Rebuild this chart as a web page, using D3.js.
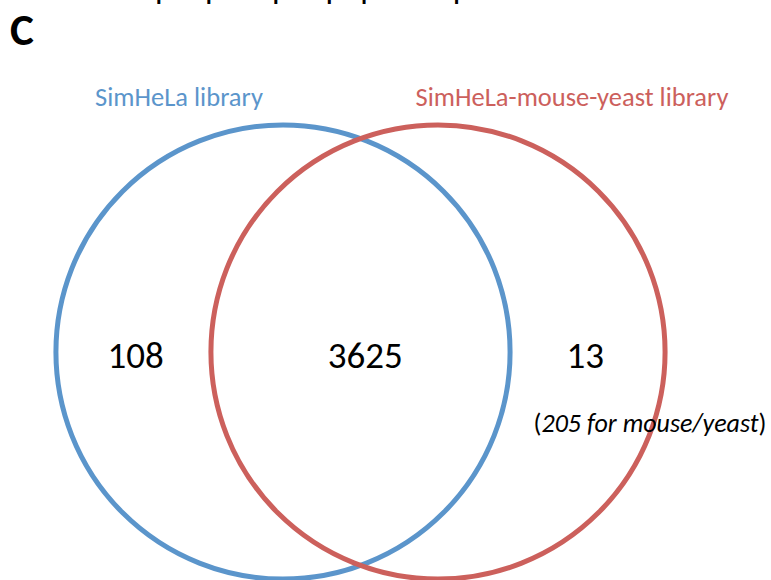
<!DOCTYPE html>
<html>
<head>
<meta charset="utf-8">
<script src="https://cdn.jsdelivr.net/npm/d3@7/dist/d3.min.js"></script>
<style>
  html, body { margin: 0; padding: 0; background: #fff; }
  svg { display: block; }
  text { font-family: Carlito, Calibri, Lato, "Open Sans", sans-serif; }
</style>
</head>
<body>
<svg id="chart" width="771" height="580"></svg>
<script>
// Library names, colours and the overlap counts
const setNames = ["SimHeLa library", "SimHeLa-mouse-yeast library"];
const setColors = ["#5b95cb", "#cc605c"];
const regionLabels = ["SimHeLa only", "Both", "SimHeLa-mouse-yeast only"];
const regionCounts = [108, 3625, 13];
const extraNote = ["205", " for mouse/yeast"];
const panelLetter = "C";
const titleText = "Unique phosphopeptide spectral matches";

const svg = d3.select("#chart");

// Horizontal layout in diagram units: circles centred at 0 and 1, radius 1.465
const x = d3.scaleLinear().domain([0, 1]).range([283, 438]);
const r = 1.465;
const rPx = x(r) - x(0);
const cy = 352;

// Title (runs off the top edge)
svg.append("text")
  .attr("x", 385).attr("y", -2)
  .attr("text-anchor", "middle")
  .attr("font-size", 34)
  .attr("fill", "#000")
  .text(titleText);

svg.append("text")
  .attr("x", 10).attr("y", 45)
  .attr("font-size", 45)
  .attr("font-weight", "bold")
  .attr("fill", "#000")
  .text(panelLetter);

// Circles: blue first, red drawn on top
svg.selectAll("circle.set")
  .data(setNames)
  .join("circle")
  .attr("class", "set")
  .attr("cx", (d, i) => x(i))
  .attr("cy", cy)
  .attr("r", rPx)
  .attr("fill", "none")
  .attr("stroke", (d, i) => setColors[i])
  .attr("stroke-width", 5);

// Set names above each circle
const nameX = [179, 572];
svg.selectAll("text.setname")
  .data(setNames)
  .join("text")
  .attr("class", "setname")
  .attr("x", (d, i) => nameX[i])
  .attr("y", 106)
  .attr("text-anchor", "middle")
  .attr("font-size", 26.5)
  .attr("fill", (d, i) => setColors[i])
  .text(d => d);

// Region counts
const regionX = [x(-0.95), x(0.53), x(1.95)];
svg.selectAll("text.count")
  .data(regionCounts)
  .join("text")
  .attr("class", "count")
  .attr("x", (d, i) => regionX[i])
  .attr("y", 368)
  .attr("text-anchor", "middle")
  .attr("font-size", 37)
  .attr("fill", "#000")
  .text(d => d);

// Note under the right-hand count
const note = svg.append("text")
  .attr("x", 650).attr("y", 432)
  .attr("text-anchor", "middle")
  .attr("font-size", 26)
  .attr("fill", "#000");
note.append("tspan").text("(");
note.append("tspan").attr("font-style", "italic").text(extraNote[0] + extraNote[1]);
note.append("tspan").text(")");
</script>
</body>
</html>
